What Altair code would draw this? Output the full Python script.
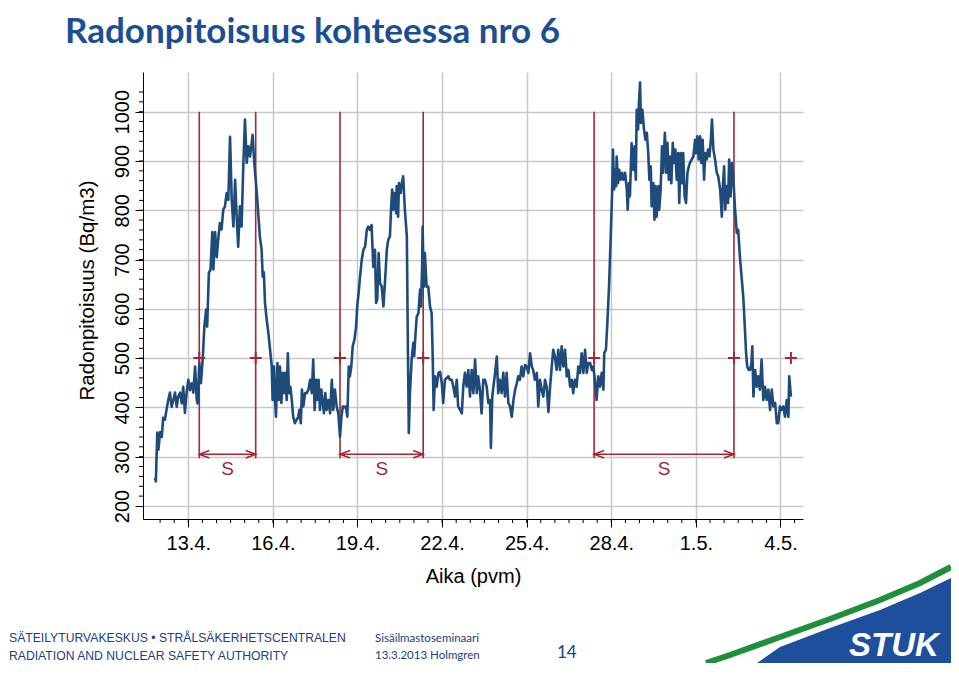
import altair as alt
import pandas as pd

# ---- measured series (days since 13.4. 00:00, Bq/m3) ----
days = [-1.18, -1.15, -1.10, -1.06, -1.00, -0.94, -0.89, -0.83, -0.79, -0.71, -0.65, -0.59, -0.53, -0.47, -0.41, -0.36,
        -0.29, -0.23, -0.18, -0.12, -0.06, 0.00, 0.06, 0.12, 0.18, 0.24, 0.30, 0.33, 0.39, 0.45, 0.51, 0.57, 0.63, 0.67,
        0.73, 0.79, 0.85, 0.89, 0.95, 1.01, 1.06, 1.12, 1.18, 1.24, 1.30, 1.36, 1.42, 1.48, 1.54, 1.60, 1.66, 1.72, 1.77,
        1.83, 1.89, 1.95, 2.01, 2.07, 2.13, 2.19, 2.25, 2.28, 2.34, 2.43, 2.54,
        2.60, 2.64, 2.68, 2.72, 2.78, 2.84, 2.90, 2.96, 2.99, 3.04, 3.07, 3.11, 3.16, 3.21, 3.25, 3.30, 3.35, 3.39, 3.44,
        3.49, 3.53, 3.57, 3.62, 3.67, 3.72, 3.78, 3.84, 3.90, 3.94, 3.99, 4.03, 4.08, 4.14, 4.20, 4.26, 4.32, 4.38, 4.43,
        4.48, 4.53, 4.57, 4.62, 4.67, 4.72, 4.77, 4.81, 4.86, 4.91, 4.97, 5.03, 5.09, 5.14, 5.20, 5.26, 5.32, 5.38, 5.43,
        5.48, 5.53, 5.59, 5.64, 5.69, 5.73, 5.78, 5.83, 5.89, 5.95, 5.99, 6.04, 6.09, 6.15, 6.21, 6.27, 6.33, 6.38, 6.44,
        6.50, 6.56, 6.62, 6.66, 6.70, 6.75, 6.80, 6.86, 6.92, 6.98, 7.04, 7.09, 7.15, 7.19, 7.23, 7.27, 7.31, 7.37, 7.39,
        7.44, 7.47, 7.53, 7.57, 7.62, 7.68, 7.75, 7.78, 7.82, 7.86, 7.92, 7.98, 8.01, 8.06, 8.10, 8.16, 8.22, 8.25, 8.29,
        8.31, 8.35, 8.39, 8.45, 8.51, 8.57, 8.63, 8.67, 8.70, 8.75, 8.81, 8.87,
        8.93, 8.99, 9.04, 9.10, 9.16, 9.22, 9.28, 9.34, 9.40, 9.46, 9.52, 9.57, 9.64, 9.70, 9.75, 9.81, 9.87, 9.93, 9.99,
        10.05, 10.11, 10.17, 10.23, 10.28, 10.34, 10.40, 10.46, 10.52, 10.58, 10.64, 10.70, 10.73, 10.78, 10.82, 10.88,
        10.94, 10.99, 11.05, 11.11, 11.17, 11.23, 11.29, 11.35, 11.41, 11.47, 11.53, 11.59, 11.65, 11.70, 11.76, 11.82,
        11.88, 11.94, 12.00, 12.06, 12.12, 12.18, 12.23, 12.29, 12.36, 12.41, 12.47, 12.53, 12.59, 12.65, 12.71, 12.77,
        12.83, 12.89, 12.94, 13.00, 13.06, 13.12, 13.18, 13.24, 13.30, 13.36, 13.42, 13.48, 13.54, 13.60, 13.65, 13.71,
        13.77, 13.83, 13.89, 13.95, 14.01, 14.07, 14.13, 14.18,
        14.25, 14.31, 14.36, 14.42, 14.48, 14.54, 14.60, 14.66, 14.72, 14.75, 14.81, 14.86, 14.92, 14.98, 15.03, 15.06,
        15.10, 15.13, 15.17, 15.19, 15.24, 15.28, 15.33, 15.38, 15.43, 15.49, 15.55, 15.58, 15.63, 15.66, 15.72, 15.78,
        15.83, 15.87, 15.90, 15.95, 15.98, 16.02, 16.05, 16.10, 16.16, 16.21, 16.26, 16.31, 16.35, 16.40, 16.43, 16.49,
        16.53, 16.57, 16.61, 16.67, 16.70, 16.75, 16.80, 16.84, 16.90, 16.95, 16.99, 17.04, 17.08, 17.13, 17.18, 17.22,
        17.27, 17.32, 17.37, 17.41, 17.46, 17.51, 17.55, 17.60, 17.65, 17.70, 17.75, 17.79, 17.85, 17.91, 17.97, 18.00,
        18.05, 18.10, 18.15, 18.19, 18.24, 18.29, 18.33, 18.38, 18.43, 18.48, 18.53, 18.57, 18.62, 18.68, 18.74, 18.79,
        18.86, 18.92, 18.95, 19.00, 19.04, 19.09, 19.14, 19.18, 19.23, 19.28, 19.33, 19.39, 19.45, 19.50, 19.56, 19.62,
        19.68, 19.74, 19.78, 19.82, 19.87, 19.92, 19.97, 20.00, 20.04, 20.10, 20.16, 20.21, 20.27, 20.33, 20.39, 20.45,
        20.51, 20.57, 20.63, 20.69, 20.75, 20.81, 20.87, 20.92, 20.98, 21.04, 21.10, 21.16, 21.22, 21.28, 21.31, 21.37]

radon = [257, 250, 349, 314, 350, 340, 379, 375, 389, 415, 430, 401, 415, 430, 401, 421,
         430, 408, 442, 389, 430, 456, 435, 449, 430, 483, 415, 408, 490, 449, 497, 564, 598, 564,
         673, 680, 756, 680, 756, 705, 740, 774, 761, 801, 808, 835, 821, 949, 821, 767, 862, 781, 726,
         808, 767, 889, 984, 896, 930, 909, 937, 953, 896, 835, 746,
         720, 665, 674, 612, 578, 551, 517, 483, 415, 483, 422, 381, 490, 415, 483, 409, 470, 429, 470,
         415, 510, 429, 442, 415, 381, 368, 375, 381, 395, 368, 436, 402, 429, 429, 436, 456, 429, 497,
         395, 456, 415, 456, 395, 436, 409, 388, 429, 395, 415, 388, 456, 395, 436, 402, 388, 340, 381,
         402, 400, 402, 381, 483, 463, 483, 524, 537, 564, 605, 632, 665, 699, 720, 726, 760, 767, 760,
         770, 685, 720, 612, 619, 713, 652, 645, 605, 659, 720, 740, 747, 801, 842, 801, 835, 794, 849,
         787, 855, 835, 855, 869, 801, 747, 564, 348, 429, 497, 531, 504, 551, 584, 591, 639, 605, 680,
         767, 645, 713, 645, 645, 605, 591, 497, 395, 463, 442, 470,
         472, 449, 409, 456, 459, 463, 456, 456, 442, 422, 456, 402, 395, 388, 442, 470, 442, 476, 422,
         476, 429, 497, 429, 463, 436, 388, 456, 456, 442, 409, 415, 318, 422, 442, 470,
         503, 429, 456, 429, 470, 422, 470, 409, 402, 381, 415, 436, 449, 463, 456, 483,
         463, 486, 483, 470, 510, 483, 476, 456, 470, 402, 456, 436, 422, 456, 442, 391,
         442, 483, 517, 503, 476, 517, 476, 524, 483, 517, 463, 476, 442, 456, 429, 456,
         442, 483, 470, 510, 470, 517, 470, 490,
         490, 476, 483, 456, 415, 463, 442, 470, 436, 510, 517, 571, 645, 747, 835, 923,
         842, 882, 849, 909, 855, 882, 862, 876, 862, 876, 842, 801, 855, 828, 936, 882,
         930, 862, 1004, 964, 1018, 1059, 977, 1004, 964, 943, 957, 916, 862, 889, 808, 855,
         781, 849, 787, 849, 801, 842, 930, 876, 957, 876, 937, 862, 909, 855, 937, 896,
         923, 862, 916, 815, 916, 855, 916, 828, 815, 876, 889, 896, 903, 909, 943, 916,
         950, 903, 950, 896, 943, 862, 916, 903, 923, 909, 943, 984, 923, 903, 876, 869,
         842, 787, 842, 889, 801, 849, 815, 903, 828, 896, 862, 801, 754, 760, 706, 665,
         624, 557, 510, 483, 476, 476, 490, 524, 422, 476, 442, 463, 436, 497, 415, 442,
         415, 436, 395, 436, 402, 409, 368, 368, 402, 395, 402, 381, 415, 381, 463, 422]

# ---- annotations ----
event_days = [0.39, 2.39, 5.38, 8.33, 14.39, 19.35]
event_top = [1000, 1000, 1000, 1000, 1000, 1000]
event_bottom = [297, 297, 297, 297, 297, 297]
plus_days = [0.39, 2.39, 5.38, 8.33, 14.39, 19.35, 21.37]
plus_level = [500, 500, 500, 500, 500, 500, 500]
period_start = [0.39, 5.38, 14.39]
period_end = [2.39, 8.33, 19.35]
period_mid = [1.39, 6.86, 16.87]
period_text = ["S", "S", "S"]
arrow_level = [305, 305, 305]
text_level = [275, 275, 275]

x_tick_days = [0, 3, 6, 9, 12, 15, 18, 21]
x_tick_labels = ["13.4.", "16.4.", "19.4.", "22.4.", "25.4.", "28.4.", "1.5.", "4.5."]
y_tick_values = [200, 300, 400, 500, 600, 700, 800, 900, 1000]
x_minor = [d / 2 for d in range(-2, 44)]
y_minor = list(range(220, 1041, 20))

# decorative footer logo outline (pixels)
logo_blue_x = [614, 637, 687, 737, 777, 808]
logo_blue_y = [591, 575, 556, 538, 521, 506]
logo_blue_base = [591, 591, 591, 591, 591, 591]
logo_green_x = [563, 587, 637, 687, 737, 777, 808]
logo_green_y = [591, 583, 565, 547, 528, 511, 495]

W, H = 660, 447
BLUE = "#1f4b7b"
RED = "#9e2a36"
GRID = "#c8c8c8"
NAVY = "#22407a"
FONT = "Liberation Sans"

xs = alt.Scale(domain=[-1.606, 21.798], nice=False, zero=False)
ys = alt.Scale(domain=[173.6, 1080.5], nice=False, zero=False)

label_expr = " : ".join(f"datum.value == {d} ? '{l}'" for d, l in zip(x_tick_days, x_tick_labels)) + " : ''"

df = pd.DataFrame({"day": days, "radon": radon})
ev = pd.DataFrame({"day": event_days, "top": event_top, "bottom": event_bottom})
pl = pd.DataFrame({"day": plus_days, "lvl": plus_level})
per = pd.DataFrame({"start": period_start, "end": period_end, "mid": period_mid,
                    "txt": period_text, "lvl": arrow_level, "tl": text_level})
xm = pd.DataFrame({"d": x_minor})
ym = pd.DataFrame({"v": y_minor})

x_axis = alt.Axis(values=x_tick_days, labelExpr=label_expr, title="Aika (pvm)", grid=True,
                  gridColor=GRID, gridWidth=1.5, domainColor="black", domainWidth=1,
                  tickColor="black", tickWidth=1, tickSize=8, labelFont=FONT, labelFontSize=20,
                  labelColor="black", labelBaseline="alphabetic", labelPadding=22, labelFlush=False,
                  labelOverlap=False, titleFont=FONT, titleFontSize=20, titleFontWeight="normal",
                  titleColor="black", titleBaseline="alphabetic", titleX=W / 2, titleY=63,
                  titleAlign="center")
y_axis = alt.Axis(values=y_tick_values, format="d", title="Radonpitoisuus (Bq/m3)", grid=True,
                  gridColor=GRID, gridWidth=1.5, domainColor="black", domainWidth=1,
                  tickColor="black", tickWidth=1, tickSize=8, labelFont=FONT, labelFontSize=20,
                  labelColor="black", labelAngle=270, labelAlign="center", labelBaseline="alphabetic",
                  labelPadding=7, labelFlush=False, labelOverlap=False, titleFont=FONT,
                  titleFontSize=20.5, titleFontWeight="normal", titleColor="black", titleAngle=270,
                  titleBaseline="alphabetic", titleAlign="center", titleX=-50, titleY=218)


def X(field):
    return alt.X(field, scale=xs, axis=x_axis)


def Y(field):
    return alt.Y(field, scale=ys, axis=y_axis)


base_line = alt.Chart(df).mark_line(color=BLUE, strokeWidth=2.6, strokeJoin="round").encode(
    x=X("day:Q"), y=Y("radon:Q"),
)

events = alt.Chart(ev).mark_rule(color=RED, strokeWidth=1.6).encode(
    x=X("day:Q"), y=Y("top:Q"), y2="bottom:Q",
)

pluses = alt.Chart(pl).mark_point(shape="M-1,0L1,0M0,-1L0,1", size=144, filled=False,
                                  color=RED, strokeWidth=2, opacity=1).encode(
    x=X("day:Q"), y=Y("lvl:Q"),
)

arrows = alt.Chart(per).mark_rule(color=RED, strokeWidth=1.5).encode(
    x=X("start:Q"), x2="end:Q", y=Y("lvl:Q"),
)
head_l = alt.Chart(per).mark_point(shape="M1.6,-0.6L0,0L1.6,0.6", size=156, filled=False,
                                   color=RED, strokeWidth=1.5, opacity=1).encode(
    x=X("start:Q"), y=Y("lvl:Q"),
)
head_r = alt.Chart(per).mark_point(shape="M-1.6,-0.6L0,0L-1.6,0.6", size=156, filled=False,
                                   color=RED, strokeWidth=1.5, opacity=1).encode(
    x=X("end:Q"), y=Y("lvl:Q"),
)
s_text = alt.Chart(per).mark_text(color=RED, font=FONT, fontSize=19, baseline="middle").encode(
    x=X("mid:Q"), y=Y("tl:Q"), text="txt:N",
)

x_minor_ticks = alt.Chart(xm).mark_rule(color="black", strokeWidth=1).encode(
    x=X("d:Q"), y=alt.value(H), y2=alt.value(H + 4),
)
y_minor_ticks = alt.Chart(ym).mark_rule(color="black", strokeWidth=1).encode(
    y=Y("v:Q"), x=alt.value(-4), x2=alt.value(0),
)


# ---- slide texts ----
def label(txt, x, y, size, color, font=FONT, weight="normal", style="normal"):
    return alt.Chart(pd.DataFrame({"t": [txt]})).mark_text(
        align="left", baseline="alphabetic", font=font, fontSize=size, color=color,
        fontWeight=weight, fontStyle=style,
    ).encode(x=alt.value(x), y=alt.value(y), text="t:N")


title = label("Radonpitoisuus kohteessa nro 6", -78, -29, 35, "#1b4f94", font="Lato", weight="bold")
foot1 = label("SÄTEILYTURVAKESKUS • STRÅLSÄKERHETSCENTRALEN", -134, 570, 12.2, NAVY)
foot2 = label("RADIATION AND NUCLEAR SAFETY AUTHORITY", -134, 588, 12.2, NAVY)
foot3 = label("Sisäilmastoseminaari", 232, 570, 11.5, NAVY, font="Lato")
foot4 = label("13.3.2013 Holmgren", 232, 587, 11.5, NAVY, font="Lato")
foot5 = label("14", 414, 586, 17, NAVY, font="Lato")

blue_df = pd.DataFrame({"px": logo_blue_x, "py": logo_blue_y, "pb": logo_blue_base})
green_df = pd.DataFrame({"px": logo_green_x, "py": logo_green_y})
logo_blue = alt.Chart(blue_df).mark_area(color="#1d4f9c", opacity=1).encode(
    x=alt.X("px:Q", scale=None),
    y=alt.Y("py:Q", scale=None),
    y2=alt.Y2("pb:Q"),
)
logo_green = alt.Chart(green_df).mark_line(color="#1f8f3c", strokeWidth=6).encode(
    x=alt.X("px:Q", scale=None),
    y=alt.Y("py:Q", scale=None),
)
stuk = label("STUK", 706, 584, 33, "white", weight="bold", style="italic")

chart = alt.layer(
    events, base_line, pluses, arrows, head_l, head_r, s_text, x_minor_ticks, y_minor_ticks,
    title, foot1, foot2, foot3, foot4, foot5, logo_blue, logo_green, stuk,
).properties(
    width=W, height=H,
    autosize=alt.AutoSizeParams(type="none"),
    padding={"left": 135, "top": 64, "right": 148, "bottom": 144},
    background="white",
).configure_view(strokeWidth=0)

chart.save("out.html", embed_options={"renderer": "svg", "actions": False})
